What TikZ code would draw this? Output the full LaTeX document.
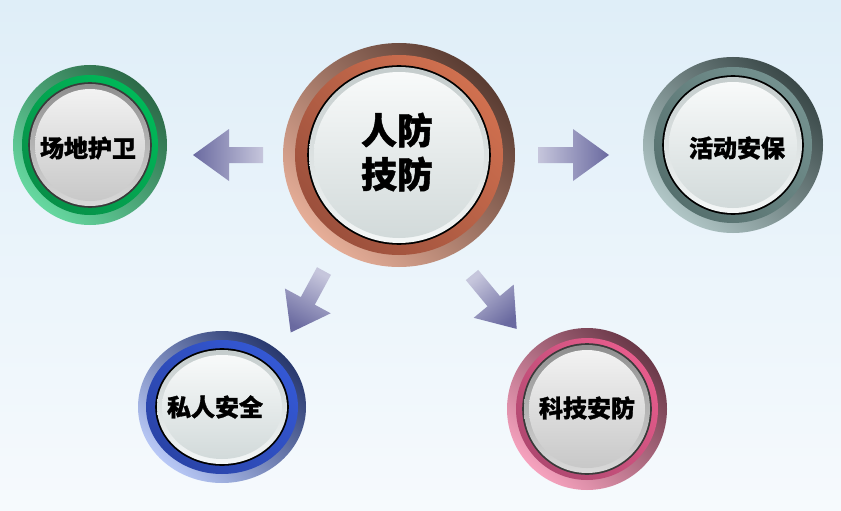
\documentclass[tikz,border=0pt]{standalone}
\usepackage{fontspec}
\newfontfamily\cjk{Noto Sans CJK SC}[BoldFeatures={FakeBold=1.2}]
% background / arrows
\definecolor{bgT}{HTML}{DFEEF8}
\definecolor{bgB}{HTML}{F6FAFD}
\definecolor{aL}{HTML}{C6C6DC}
\definecolor{aD}{HTML}{6A6AA0}
% centre (brown)
\definecolor{cOL}{HTML}{E6AE98}\definecolor{cOD}{HTML}{5A3C32}
\definecolor{cM}{HTML}{D0704F}\definecolor{cMD}{HTML}{9C503C}
% green
\definecolor{gOL}{HTML}{66D8A0}\definecolor{gOD}{HTML}{2C6A48}
\definecolor{gM}{HTML}{00B858}\definecolor{gMD}{HTML}{079048}
% grey-teal
\definecolor{tOL}{HTML}{B0C6C6}\definecolor{tOD}{HTML}{3A4848}
\definecolor{tM}{HTML}{74918F}\definecolor{tMD}{HTML}{56706E}
% blue
\definecolor{bOL}{HTML}{B8C8F6}\definecolor{bOD}{HTML}{28386E}
\definecolor{bM}{HTML}{3458D4}\definecolor{bMD}{HTML}{2A44A8}
% pink
\definecolor{pOL}{HTML}{F6A2BE}\definecolor{pOD}{HTML}{6A3848}
\definecolor{pM}{HTML}{E65C8C}\definecolor{pMD}{HTML}{B04870}
% inner faces: white type (W) and grey type (G)
\definecolor{WK}{HTML}{000000}\definecolor{WRT}{HTML}{C4CCCC}\definecolor{WRB}{HTML}{F4F7F7}
\definecolor{WFT}{HTML}{F8FAFA}\definecolor{WFB}{HTML}{D2DADA}
\definecolor{GK}{HTML}{3A3A3A}\definecolor{GRT}{HTML}{8E8E8E}\definecolor{GRB}{HTML}{DADADA}
\definecolor{GFT}{HTML}{F2F2F2}\definecolor{GFB}{HTML}{C8C8C8}

% #1 centre, #2/#3 outer radii, #4/#5 middle radii, #6/#7 inner radii, #8 ring colours, #9 face colours
\newcommand\mybtn[9]{%
  \shade[bottom color=#8OL, top color=#8OD, shading angle=-45] (#1) ellipse[x radius=#2pt, y radius=#3pt];
  \shade[bottom color=#8MD, top color=#8M, shading angle=-45] (#1) ellipse[x radius=#4pt, y radius=#5pt];
  \fill[#9K] (#1) ellipse[x radius=#6pt+1.8pt, y radius=#7pt+1.8pt];
  \shade[top color=#9RT, bottom color=#9RB] (#1) ellipse[x radius=#6pt, y radius=#7pt];
  \shade[top color=#9FT, bottom color=#9FB] (#1) ellipse[x radius=#6pt-5pt, y radius=#7pt-5pt];
}

\tikzset{
  lbl/.style={font=\cjk\bfseries\fontsize{24}{28}\selectfont, text=black, inner sep=0pt},
  biglbl/.style={font=\cjk\bfseries\fontsize{36}{44}\selectfont, text=black, inner sep=0pt, align=center},
}

\begin{document}
\begin{tikzpicture}[x=1pt, y=-1pt]
\useasboundingbox (0,0) rectangle (841,511);
\shade[top color=bgT, bottom color=bgB] (0,0) rectangle (841,511);

% centres
\coordinate (pC) at (399,155);
\coordinate (pL) at (90,145);
\coordinate (pR) at (733,145);
\coordinate (pBL) at (222,407);
\coordinate (pBR) at (587,409);

% arrows
\shade[left color=aL, right color=aD]
  (538,147) -- (573,147) -- (573,129) -- (609,155) -- (573,181) -- (573,163) -- (538,163) -- cycle;
\shade[left color=aD, right color=aL]
  (263,147) -- (229,147) -- (229,129) -- (193,155) -- (229,181) -- (229,163) -- (263,163) -- cycle;
\shade[bottom color=aL, top color=aD, shading angle=151.6]
  (331.0,274.8) -- (314.8,304.7) -- (330.7,313.3) -- (290.7,332.5) -- (284.9,288.5) -- (300.8,297.1) -- (317.0,267.2) -- cycle;
\shade[bottom color=aL, top color=aD, shading angle=-140.3]
  (478.2,269.9) -- (499.9,296.1) -- (513.7,284.6) -- (516.7,328.9) -- (473.7,317.8) -- (487.5,306.3) -- (465.8,280.1) -- cycle;

% buttons
\mybtn{pC}{116}{112}{104}{100}{90}{88}{c}{W}
\mybtn{pL}{77}{80}{68}{70}{60}{61}{g}{G}
\mybtn{pR}{90}{88}{79}{78}{69}{68}{t}{W}
\mybtn{pBL}{84}{76}{76}{67}{65}{57}{b}{W}
\mybtn{pBR}{80}{81}{71}{71}{63}{64}{p}{G}

% labels
\node[biglbl] (nC) at (397,152) {人防\\技防};
\node[lbl] (nL) at (88,148) {场地护卫};
\node[lbl] (nR) at (737,148) {活动安保};
\node[lbl] (nBL) at (215,407) {私人安全};
\node[lbl] (nBR) at (587,408) {科技安防};
\end{tikzpicture}
\end{document}
